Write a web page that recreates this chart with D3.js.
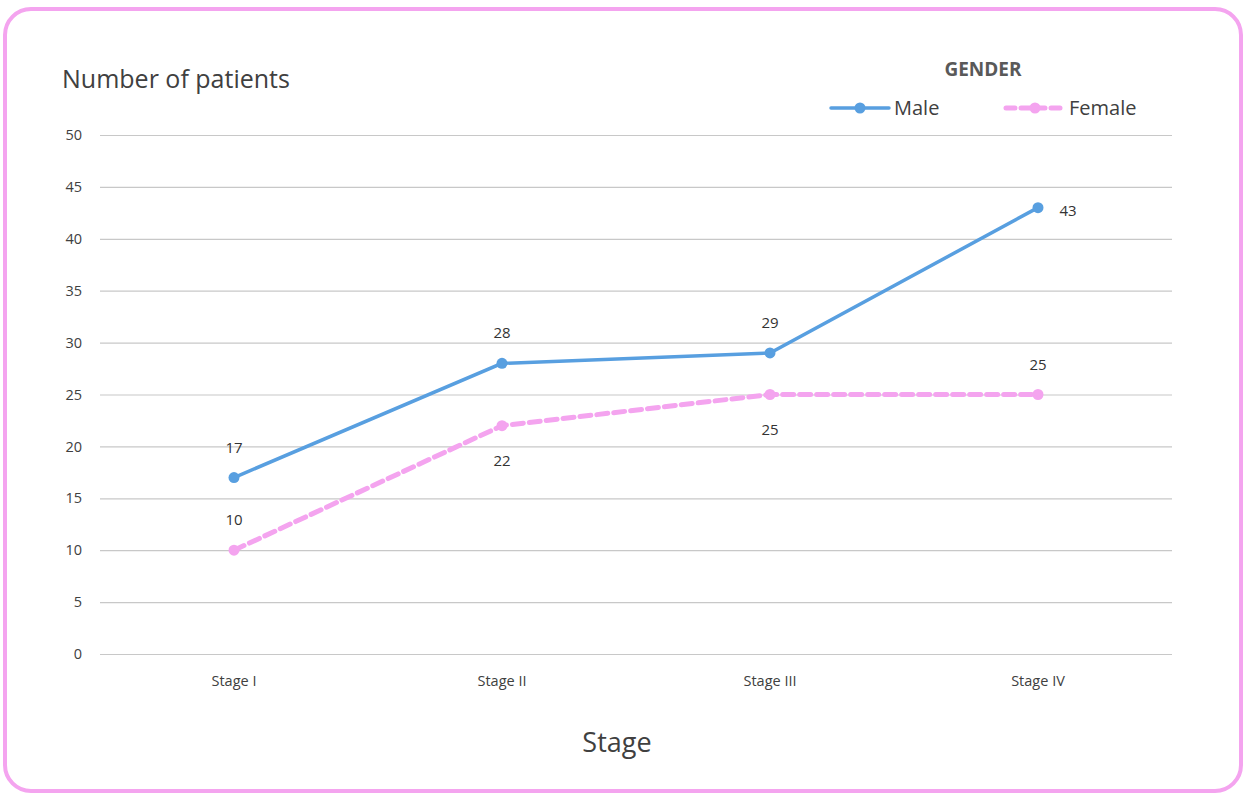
<!DOCTYPE html>
<html><head><meta charset="utf-8">
<script src="https://cdn.jsdelivr.net/npm/d3@7"></script>
<style>body{margin:0;background:#fff}svg{display:block}</style>
</head><body>
<svg id="c" width="1246" height="795"></svg>
<script>
const stages = ["Stage I", "Stage II", "Stage III", "Stage IV"];
const male = [17, 28, 29, 43];
const female = [10, 22, 25, 25];
const yTicks = [0, 5, 10, 15, 20, 25, 30, 35, 40, 45, 50];
const maleLabelPos = ["above", "above", "above", "right"];
const femaleLabelPos = ["above", "below", "below", "above"];

(function () {
const svg = d3.select("#c");
const font = "'Open Sans', 'Noto Sans', sans-serif";
svg.append("rect").attr("x", 5).attr("y", 9).attr("width", 1236).attr("height", 782)
  .attr("rx", 26).attr("fill", "#fff").attr("stroke", "#f4a4ef").attr("stroke-width", 4);

const pl = 100, pr = 1172, pt = 135, pb = 654;
const x = d3.scaleBand().domain(stages).range([pl, pr]);
const y = d3.scaleLinear().domain([0, 50]).range([pb, pt]);

const yAxis = svg.append("g").attr("transform", `translate(${pl},0)`)
  .call(d3.axisLeft(y).tickValues(yTicks).tickSize(-(pr - pl)).tickPadding(18));
yAxis.select(".domain").remove();
yAxis.selectAll(".tick line").attr("stroke", "#c8c8c8").attr("stroke-width", 1.2);
yAxis.selectAll(".tick text").attr("font-family", font).attr("font-size", 14.5).attr("fill", "#404040");

const xAxis = svg.append("g").attr("transform", `translate(0,${pb})`)
  .call(d3.axisBottom(x).tickSize(0).tickPadding(22));
xAxis.select(".domain").remove();
xAxis.selectAll(".tick text").attr("font-family", font).attr("font-size", 14.5).attr("fill", "#404040");

const cx = d => x(d) + x.bandwidth() / 2;
const line = d3.line().x((d, i) => cx(stages[i])).y(d => y(d));

const maleColor = "#589fe0", femaleColor = "#f4a4ef";
svg.append("path").datum(female).attr("d", line).attr("fill", "none")
  .attr("stroke", femaleColor).attr("stroke-width", 5).attr("stroke-dasharray", "11,6").attr("stroke-linecap", "round");
svg.append("path").datum(male).attr("d", line).attr("fill", "none")
  .attr("stroke", maleColor).attr("stroke-width", 3.5);

svg.selectAll(".fm").data(female).enter().append("circle")
  .attr("cx", (d, i) => cx(stages[i])).attr("cy", d => y(d)).attr("r", 5.5).attr("fill", femaleColor);
svg.selectAll(".mm").data(male).enter().append("circle")
  .attr("cx", (d, i) => cx(stages[i])).attr("cy", d => y(d)).attr("r", 5.5).attr("fill", maleColor);

function labels(data, pos) {
  svg.selectAll(null).data(data).enter().append("text")
    .attr("x", (d, i) => cx(stages[i]) + (pos[i] === "right" ? 30 : 0))
    .attr("y", (d, i) => y(d) + (pos[i] === "above" ? -25 : pos[i] === "below" ? 40 : 8))
    .attr("text-anchor", "middle").attr("font-family", font).attr("font-size", 15).attr("fill", "#333")
    .text(d => d);
}
labels(male, maleLabelPos);
labels(female, femaleLabelPos);

svg.append("text").attr("x", 62).attr("y", 88).attr("font-family", font).attr("font-size", 25)
  .attr("fill", "#404040").text("Number of patients");
svg.append("text").attr("x", 617).attr("y", 752).attr("text-anchor", "middle").attr("font-family", font)
  .attr("font-size", 27).attr("fill", "#404040").text("Stage");

svg.append("text").attr("x", 983).attr("y", 76).attr("text-anchor", "middle").attr("font-family", font)
  .attr("font-size", 19).attr("font-weight", "bold").attr("fill", "#595959").text("GENDER");

const leg = [{name: "Male", c: maleColor, x0: 831, dash: null, w: 3.5},
             {name: "Female", c: femaleColor, x0: 1006, dash: "9,6", w: 5}];
leg.forEach(l => {
  svg.append("line").attr("x1", l.x0).attr("x2", l.x0 + 58).attr("y1", 108).attr("y2", 108)
    .attr("stroke", l.c).attr("stroke-width", l.w).attr("stroke-dasharray", l.dash).attr("stroke-linecap", "round");
  svg.append("circle").attr("cx", l.x0 + 29).attr("cy", 108).attr("r", 5.5).attr("fill", l.c);
  svg.append("text").attr("x", l.x0 + 63).attr("y", 115).attr("font-family", font).attr("font-size", 20)
    .attr("fill", "#404040").text(l.name);
});
})();
</script>
</body></html>
